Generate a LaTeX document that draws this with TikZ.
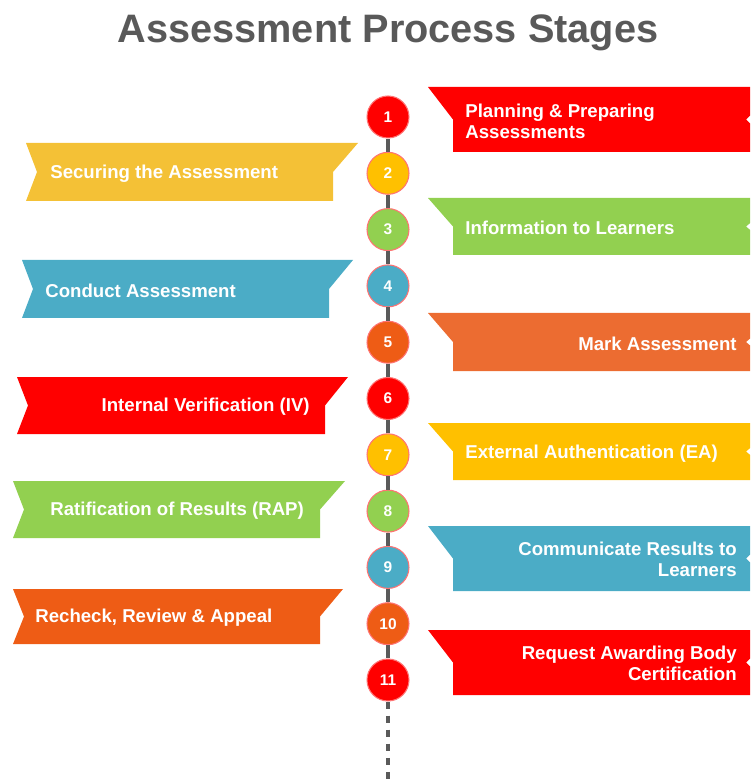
\documentclass[tikz,border=0pt]{standalone}
\usepackage{fontspec}
\setmainfont{Liberation Sans}

\definecolor{stagered}{HTML}{FF0000}
\definecolor{stageamber}{HTML}{FFC000}
\definecolor{stageyellow}{HTML}{F4C136}
\definecolor{stagegreen}{HTML}{92D050}
\definecolor{stageteal}{HTML}{4BACC6}
\definecolor{stageorange}{HTML}{EC6C31}
\definecolor{stagerust}{HTML}{EE5C15}
\definecolor{spinegray}{HTML}{5A5A5A}
\definecolor{titlegray}{HTML}{595959}

\newcommand*{\spinex}{388}
\newcommand*{\firsty}{117}
\newcommand*{\gapy}{56.3}

% right banner: top, bottom, colour
\newcommand*{\rightbanner}[3]{%
	\fill[#3] (428,#1) -- (780,#1) -- (746,{(#1+#2)/2}) -- (780,#2)
		-- (453,#2) -- (453,{(#1+#2)/2}) -- cycle;}
% left banner: top, bottom, left edge, top right corner, right edge, colour
\newcommand*{\leftbanner}[6]{%
	\fill[#6] (#3,#1) -- (#4,#1) -- (#5,{(#1+#2)/2}) -- (#5,#2)
		-- (#3,#2) -- ({#3+11},{(#1+#2)/2}) -- cycle;}

\begin{document}
\begin{tikzpicture}
[
	x=0.02cm, y=-0.02cm,
	stage/.style={circle,fill=#1,draw=red!55!white,line width=0.6pt,minimum size=0.84cm,inner sep=0pt,text=white,font=\bfseries\fontsize{8.8}{10}\selectfont},
	bannertext/.style={text=white,inner sep=0pt,yshift=-1pt,font=\bfseries\fontsize{10.6}{11.9}\selectfont},
	spine/.style={draw=spinegray,line width=2.4pt}
]

	\useasboundingbox (0,0) rectangle (750,783);
	\clip (0,0) rectangle (750,783);

	% title
	\node[text=titlegray,font=\bfseries\fontsize{22.6}{26}\selectfont] (title) at (388,33) {Assessment Process Stages};

	% banners on the right
	\rightbanner{87}{152}{stagered}
	\rightbanner{198}{255}{stagegreen}
	\rightbanner{313}{371}{stageorange}
	\rightbanner{423}{480}{stageamber}
	\rightbanner{526}{591}{stageteal}
	\rightbanner{630}{695}{stagered}

	\node[bannertext,anchor=west,align=left] (plan) at (465,120) {Planning \& Preparing\\Assessments};
	\node[bannertext,anchor=west] (inform) at (465,226) {Information to Learners};
	\node[bannertext,anchor=east] (mark) at (737,342) {Mark Assessment};
	\node[bannertext,anchor=west] (ea) at (465,452) {External Authentication (EA)};
	\node[bannertext,anchor=east,align=right] (communicate) at (737,558) {Communicate Results to\\Learners};
	\node[bannertext,anchor=east,align=right] (request) at (737,662) {Request Awarding Body\\Certification};

	% banners on the left
	\leftbanner{143}{201}{26}{358}{333}{stageyellow}
	\leftbanner{260}{318}{22}{353}{329}{stageteal}
	\leftbanner{377}{434}{17}{348}{325}{stagered}
	\leftbanner{481}{538}{13}{345}{320}{stagegreen}
	\leftbanner{589}{644}{13}{343}{320}{stagerust}

	\node[bannertext,anchor=west] (secure) at (50,172) {Securing the Assessment};
	\node[bannertext,anchor=west] (conduct) at (45,289) {Conduct Assessment};
	\node[bannertext,anchor=east] (iv) at (310,405) {Internal Verification (IV)};
	\node[bannertext,anchor=west] (rap) at (50,509) {Ratification of Results (RAP)};
	\node[bannertext,anchor=west] (appeal) at (35,616) {Recheck, Review \& Appeal};

	% numbered stages
	\foreach \i/\col in {1/stagered,2/stageamber,3/stagegreen,4/stageteal,5/stagerust,6/stagered,7/stageamber,8/stagegreen,9/stageteal,10/stagerust,11/stagered}
		\node[stage=\col] (c\i) at (\spinex,{\firsty+(\i-1)*\gapy}) {\i};

	% spine
	\foreach \i [evaluate=\i as \j using int(\i+1)] in {1,...,10}
		\draw[spine] (c\i) -- (c\j);
	\coordinate (tail) at (\spinex,790);
	\draw[spine,dash pattern=on 4pt off 4pt] (c11) -- (tail);

\end{tikzpicture}
\end{document}
